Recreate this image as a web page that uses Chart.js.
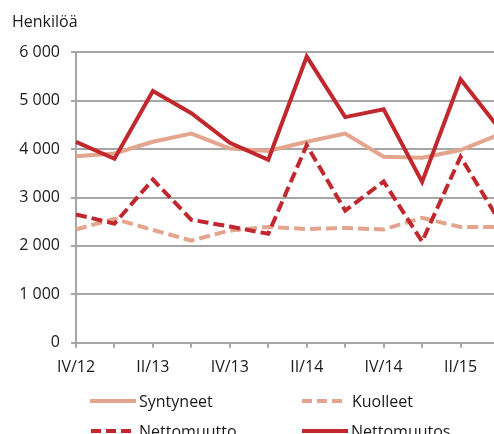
<!DOCTYPE html>
<html>
<head>
<meta charset="utf-8">
<script src="https://cdn.jsdelivr.net/npm/chart.js@4/dist/chart.umd.min.js"></script>
<style>
  html, body { margin: 0; padding: 0; background: #fff; }
  #wrap { position: relative; width: 494px; height: 434px; overflow: hidden; font-family: "Open Sans", sans-serif; }
  #cbox { position: absolute; left: 0; top: 0; width: 510px; height: 434px; }
  .lg { position: absolute; height: 20px; display: flex; align-items: center; font-size: 16px; line-height: 20px; color: #1a1a1a; white-space: nowrap; }
  .lg svg { display: block; }
</style>
</head>
<body>
<div id="wrap">
  <div id="cbox"><canvas id="c" width="510" height="434"></canvas></div>
  <div id="legend"></div>
</div>
<script>
// ---- data ----
const categories = ['IV/12','I/13','II/13','III/13','IV/13','I/14','II/14','III/14','IV/14','I/15','II/15','III/15'];
const syntyneet   = [3850, 3910, 4150, 4320, 4010, 3960, 4150, 4320, 3840, 3820, 3980, 4300];
const kuolleet    = [2340, 2560, 2330, 2110, 2320, 2390, 2350, 2370, 2340, 2580, 2390, 2390];
const nettomuutto = [2650, 2460, 3370, 2540, 2400, 2250, 4080, 2730, 3330, 2090, 3840, 2530];
const nettomuutos = [4150, 3800, 5200, 4740, 4130, 3780, 5910, 4660, 4820, 3320, 5440, 4430];
const yTicks = [0, 1000, 2000, 3000, 4000, 5000, 6000];
const seriesNames = ['Syntyneet', 'Kuolleet', 'Nettomuutto', 'Nettomuutos'];
const yTitle = 'Henkilöä';

const DARK = '#c0282d';
const LIGHT = '#e3a58d';
const GRID = '#a6a6a6';
const FONT = '"Open Sans", sans-serif';

function fmt(v) {
  return String(v).replace(/\B(?=(\d{3})+(?!\d))/g, ' ');
}

const ctx = document.getElementById('c').getContext('2d');
new Chart(ctx, {
  type: 'line',
  data: {
    labels: categories,
    datasets: [
      { label: seriesNames[0], data: syntyneet, borderColor: LIGHT, borderWidth: 4, order: 3 },
      { label: seriesNames[1], data: kuolleet, borderColor: LIGHT, borderWidth: 4, borderDash: [11, 5], order: 4 },
      { label: seriesNames[2], data: nettomuutto, borderColor: DARK, borderWidth: 4, borderDash: [11, 5], order: 2 },
      { label: seriesNames[3], data: nettomuutos, borderColor: DARK, borderWidth: 4, order: 1 }
    ]
  },
  options: {
    responsive: false,
    animation: false,
    events: [],
    elements: { point: { radius: 0 }, line: { tension: 0, fill: false, borderCapStyle: 'butt', borderJoinStyle: 'miter' } },
    layout: { padding: { left: 12, right: 11, top: 0, bottom: 47 } },
    plugins: {
      legend: { display: false },
      tooltip: { enabled: false },
      title: {
        display: true, text: yTitle, align: 'start', color: '#1a1a1a',
        font: { family: FONT, size: 16, weight: 'normal' },
        padding: { top: 13, bottom: 20 }
      }
    },
    scales: {
      x: {
        offset: false,
        grid: { display: true, drawOnChartArea: false, drawTicks: true, tickLength: 5, color: GRID, lineWidth: 2 },
        border: { display: true, color: GRID, width: 2 },
        ticks: {
          autoSkip: false, maxRotation: 0, padding: 10, color: '#1a1a1a',
          font: { family: FONT, size: 16 },
          callback: function (v, i) { return i % 2 === 0 ? categories[i] : ''; }
        }
      },
      y: {
        min: yTicks[0], max: yTicks[yTicks.length - 1],
        afterFit: function (s) { s.width = 64; },
        afterBuildTicks: function (s) { s.ticks = yTicks.map(v => ({ value: v })); },
        grid: { color: GRID, lineWidth: 2, drawTicks: true, tickLength: 5 },
        border: { display: true, color: GRID, width: 2 },
        ticks: {
          padding: 11, color: '#1a1a1a',
          font: { family: FONT, size: 16 },
          callback: function (v) { return fmt(v); }
        }
      }
    }
  }
});

// ---- legend (HTML) ----
const legendItems = [
  { name: seriesNames[0], color: LIGHT, dash: null, x1: 90, x2: 136, tx: 139, top: 391 },
  { name: seriesNames[1], color: LIGHT, dash: '10 5', x1: 302, x2: 343, tx: 352, top: 391 },
  { name: seriesNames[2], color: DARK, dash: '10 5', x1: 91, x2: 132, tx: 139, top: 421 },
  { name: seriesNames[3], color: DARK, dash: null, x1: 302, x2: 348, tx: 351, top: 421 }
];
const lg = document.getElementById('legend');
legendItems.forEach(it => {
  const d = document.createElement('div');
  d.className = 'lg';
  d.style.left = it.x1 + 'px';
  d.style.top = it.top + 'px';
  const w = it.x2 - it.x1;
  const svgNS = 'http://www.w3.org/2000/svg';
  const svg = document.createElementNS(svgNS, 'svg');
  svg.setAttribute('width', w);
  svg.setAttribute('height', 6);
  const ln = document.createElementNS(svgNS, 'line');
  ln.setAttribute('x1', 0); ln.setAttribute('y1', 3);
  ln.setAttribute('x2', w); ln.setAttribute('y2', 3);
  ln.setAttribute('stroke', it.color);
  ln.setAttribute('stroke-width', 4);
  if (it.dash) ln.setAttribute('stroke-dasharray', it.dash);
  svg.appendChild(ln);
  d.appendChild(svg);
  const sp = document.createElement('span');
  sp.textContent = it.name;
  sp.style.marginLeft = (it.tx - it.x2) + 'px';
  d.appendChild(sp);
  lg.appendChild(d);
});
</script>
</body>
</html>
